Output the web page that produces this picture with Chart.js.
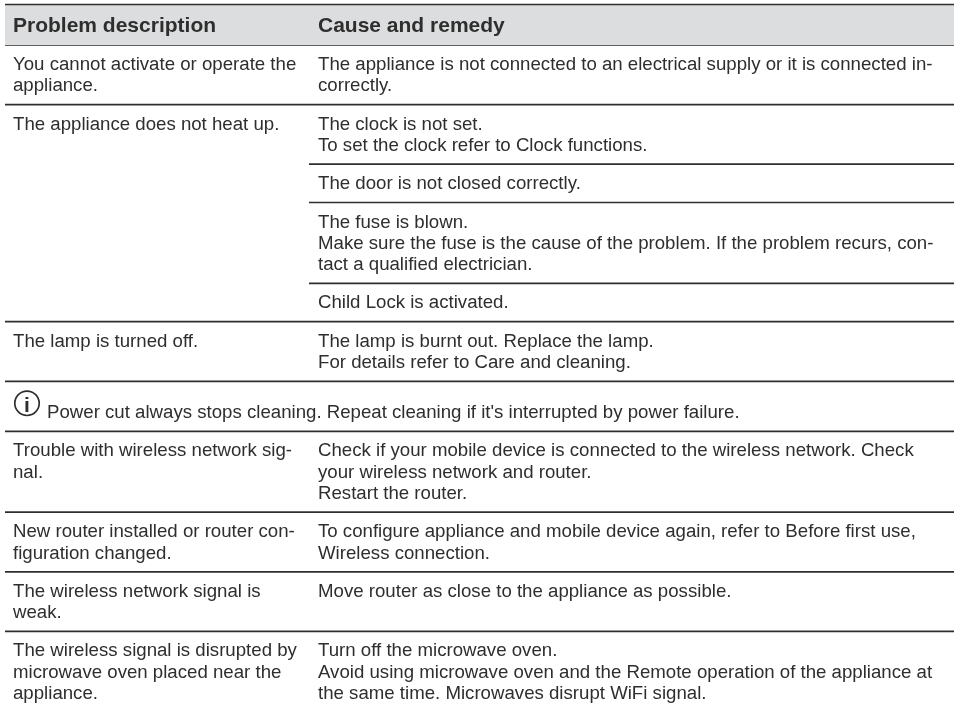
<!DOCTYPE html>
<html>
<head>
<meta charset="utf-8">
<title>Problem description</title>
<script src="https://cdn.jsdelivr.net/npm/chart.js@4"></script>
<style>
  html, body { margin: 0; padding: 0; background: #fff; }
  canvas { display: block; }
</style>
</head>
<body>
<canvas id="myChart" width="959" height="708"></canvas>
<script>
var headers = ["Problem description", "Cause and remedy"];

// one entry per table row, each entry is the text lines of that cell
var problems = [
  ["You cannot activate or operate the", "appliance."],
  ["The appliance does not heat up."],
  [],
  [],
  [],
  ["The lamp is turned off."],
  [],
  ["Trouble with wireless network sig-", "nal."],
  ["New router installed or router con-", "figuration changed."],
  ["The wireless network signal is", "weak."],
  ["The wireless signal is disrupted by", "microwave oven placed near the", "appliance."]
];
var remedies = [
  ["The appliance is not connected to an electrical supply or it is connected in-", "correctly."],
  ["The clock is not set.", "To set the clock refer to Clock functions."],
  ["The door is not closed correctly."],
  ["The fuse is blown.", "Make sure the fuse is the cause of the problem. If the problem recurs, con-", "tact a qualified electrician."],
  ["Child Lock is activated."],
  ["The lamp is burnt out. Replace the lamp.", "For details refer to Care and cleaning."],
  [],
  ["Check if your mobile device is connected to the wireless network. Check", "your wireless network and router.", "Restart the router."],
  ["To configure appliance and mobile device again, refer to Before first use,", "Wireless connection."],
  ["Move router as close to the appliance as possible."],
  ["Turn off the microwave oven.", "Avoid using microwave oven and the Remote operation of the appliance at", "the same time. Microwaves disrupt WiFi signal."]
];
var note = "Power cut always stops cleaning. Repeat cleaning if it's interrupted by power failure.";
var noteRow = 6;
var noteLines = 1.55;

const LINE_H = 21.3;
const ROW_PAD = 17 / LINE_H;
const TABLE_LEFT = 5, TABLE_RIGHT = 954, COL_SPLIT = 309;
const TEXT_X1 = 13, TEXT_X2 = 318;
const headTop = 4.5 / LINE_H, headBottom = 45 / LINE_H;

// row tops in line units, summed from the number of lines in each row
var rowTops = [];
var cursor = headBottom;
problems.forEach(function (p, i) {
  rowTops.push(cursor);
  var n = i == noteRow ? noteLines : Math.max(p.length, remedies[i].length);
  cursor += n + ROW_PAD;
});

function rule(y, from, fill) {
  return {
    data: [{ x: from, y: y }, { x: TABLE_RIGHT, y: y }],
    showLine: true,
    pointRadius: 0,
    borderColor: "#2e2e2e",
    borderWidth: 1.7,
    fill: fill || false,
    backgroundColor: "#dcddde"
  };
}

var datasets = [rule(headTop, TABLE_LEFT, "+1"), rule(headBottom, TABLE_LEFT)];
rowTops.forEach(function (top, i) {
  if (i == 0) return;
  // rows with an empty problem cell only have a rule under the remedy column
  datasets.push(rule(top, problems[i].length || i == noteRow ? TABLE_LEFT : COL_SPLIT));
});

var tableText = {
  id: "tableText",
  afterDatasetsDraw: function (chart) {
    var c = chart.ctx;
    var y = chart.scales.y;
    var x = chart.scales.x;
    c.save();
    c.fillStyle = "#2e2e2e";
    c.textBaseline = "alphabetic";

    c.font = "bold 21px 'Liberation Sans'";
    c.fillText(headers[0], x.getPixelForValue(TEXT_X1), 32);
    c.fillText(headers[1], x.getPixelForValue(TEXT_X2), 32);

    c.font = "18.65px 'Liberation Sans'";
    function cell(lines, col, top) {
      lines.forEach(function (txt, k) {
        c.fillText(txt, x.getPixelForValue(col), y.getPixelForValue(top + k) + 25);
      });
    }
    rowTops.forEach(function (top, i) {
      cell(problems[i], TEXT_X1, top);
      cell(remedies[i], TEXT_X2, top);
    });

    // note row with the info icon
    var base = y.getPixelForValue(rowTops[noteRow]) + 37;
    c.fillText(note, x.getPixelForValue(47), base);
    c.beginPath();
    c.arc(x.getPixelForValue(27), base - 15, 12.2, 0, Math.PI * 2);
    c.strokeStyle = "#2e2e2e";
    c.lineWidth = 1.7;
    c.stroke();
    c.font = "bold 21px 'Liberation Sans'";
    c.textAlign = "center";
    c.fillText("i", x.getPixelForValue(27), base - 6);
    c.restore();
  }
};

new Chart(document.getElementById("myChart"), {
  type: "scatter",
  data: { datasets: datasets },
  plugins: [tableText],
  options: {
    responsive: false,
    animation: false,
    layout: { padding: 0 },
    plugins: { legend: { display: false }, tooltip: { enabled: false } },
    scales: {
      x: { type: "linear", min: 0, max: 959, display: false },
      y: { type: "linear", min: 0, max: 708 / LINE_H, reverse: true, display: false }
    }
  }
});
</script>
</body>
</html>
